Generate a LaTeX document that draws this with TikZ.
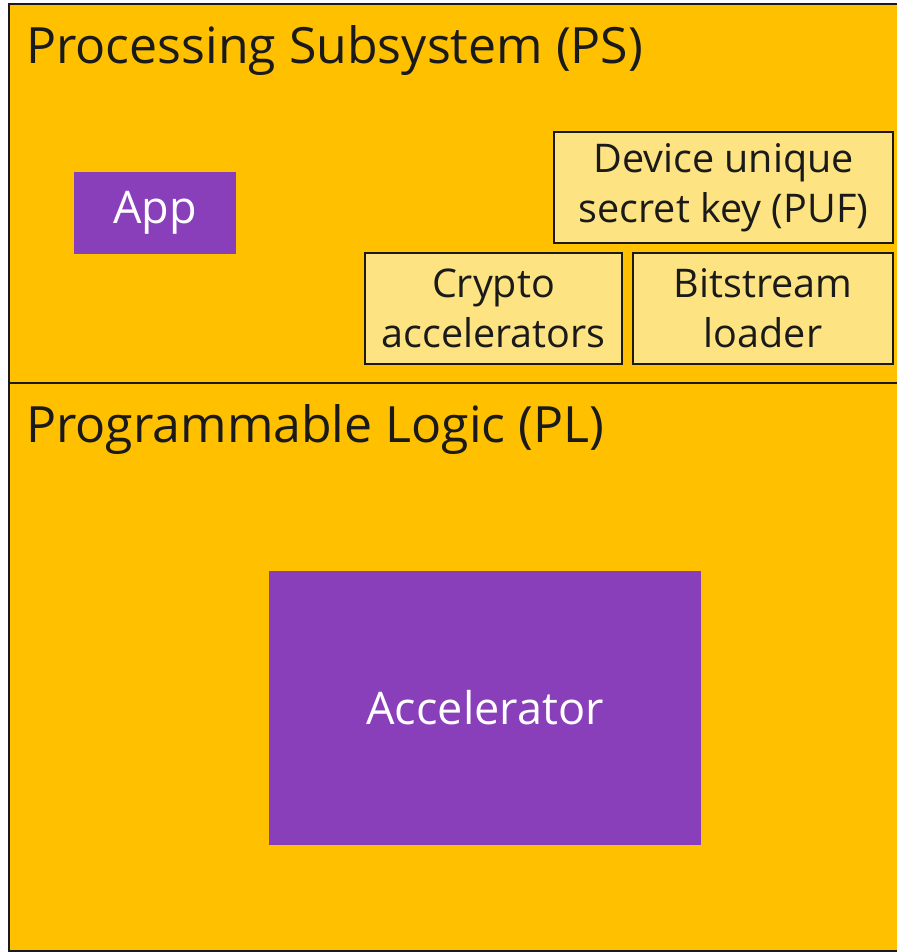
\documentclass[tikz,border=0pt]{standalone}
\usepackage{fontspec}
\setmainfont{Open Sans}
\definecolor{psorange}{HTML}{FFC000}
\definecolor{lightyel}{HTML}{FDE381}
\definecolor{purp}{HTML}{8A3FBA}
\definecolor{ink}{HTML}{1A1A1A}
\newcommand{\dn}[1]{\raisebox{-3pt}{#1}}
\tikzset{
  region/.style={draw=ink, line width=2pt, fill=psorange},
  secbox/.style={draw=ink, line width=2pt, fill=lightyel, text=ink, align=center, inner sep=0pt, font=\fontsize{39.5}{50}\selectfont},
  purpbox/.style={fill=purp, text=white, inner sep=0pt, font=\fontsize{45}{54}\selectfont},
  title/.style={anchor=west, text=ink, inner sep=0pt, font=\fontsize{50}{60}\selectfont}
}
\begin{document}
\begin{tikzpicture}[x=1pt,y=-1pt]
\useasboundingbox (0,0) rectangle (896,952);
\fill[white] (0,0) rectangle (896,952);
\path[region] (9,4) rectangle (905,383);
\path[region] (9,383) rectangle (905,951);
\node[title] (ps) at (26,51) {Processing Subsystem (PS)};
\node[title] (pl) at (26,430) {Programmable Logic (PL)};
\node[purpbox, minimum width=162pt, minimum height=82pt] (app) at (155,213) {\dn{App}};
\node[secbox, minimum width=339pt, minimum height=111pt] (puf) at (723.5,187.5) {\dn{Device unique}\\\dn{secret key (PUF)}};
\node[secbox, minimum width=257pt, minimum height=111pt] (crypto) at (493.5,308.5) {\dn{Crypto}\\\dn{accelerators}};
\node[secbox, minimum width=260pt, minimum height=111pt] (bit) at (763,308.5) {\dn{Bitstream}\\\dn{loader}};
\node[purpbox, minimum width=432pt, minimum height=274pt] (acc) at (485,708) {\dn{Accelerator}};
\end{tikzpicture}
\end{document}
